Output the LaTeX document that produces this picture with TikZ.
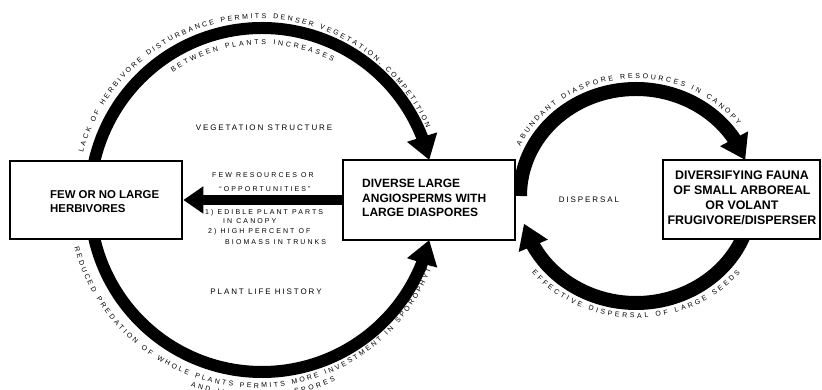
\documentclass[tikz,border=0pt]{standalone}
\usepackage{fontspec}
\setmainfont{Liberation Sans}
\newfontfamily\lblfont[LetterSpace=24]{Liberation Sans}
\newfontfamily\smfont[LetterSpace=30]{Liberation Sans}
\newfontfamily\arcfont{Liberation Sans}
\usetikzlibrary{arrows.meta,bending,calc,decorations.text}
\begin{document}
\begin{tikzpicture}[x=1pt,y=1pt,
  boxnode/.style={draw, line width=2.6pt, fill=white, inner sep=0pt},
  boxtext/.style={font=\bfseries\fontsize{12}{14.5}\selectfont, inner sep=0pt},
  lbl/.style={font=\lblfont\fontsize{8}{9}\selectfont, inner sep=0pt},
  sml/.style={font=\smfont\fontsize{7}{8}\selectfont, inner sep=0pt},
  ringL/.style={line width=12pt},
  ringR/.style={line width=14pt},
  bigtip/.style={-{Triangle[length=24pt,width=30pt,flex]}},
  arctext/.style={decorate, decoration={text along path, text align={fit to path},
     text={|\arcfont\fontsize{7}{8}\selectfont|#1}}}
]
\useasboundingbox (0,0) rectangle (822,390);
\coordinate (C1) at (262,190);
\coordinate (C2) at (636,194);
\coordinate (T1) at (259,189);
\coordinate (T2) at (256.5,190);

% rings
\draw[ringL, bigtip] ($(C1)+(180:172)$) coordinate (La) arc[start angle=180, end angle=13.45, radius=172];
\draw[ringL, bigtip] (La) arc[start angle=180, end angle=346.55, radius=172];
\draw[ringR, bigtip] ($(C2)+(180:116 and 107)$) coordinate (Ra) arc[start angle=180, end angle=19.66, x radius=116, y radius=107];
\draw[ringR, bigtip] ($(C2)+(350:116 and 107)$) coordinate (Rb) arc[start angle=350, end angle=195, x radius=116, y radius=107];

% boxes
\node[boxnode, minimum width=172pt, minimum height=78pt] (L) at (96,190) {};
\node[boxnode, minimum width=172pt, minimum height=80pt] (M) at (429,190) {};
\node[boxnode, minimum width=157pt, minimum height=79pt] (R) at (741.5,190.5) {};

\node[boxtext, font=\bfseries\fontsize{11.4}{13.5}\selectfont, anchor=west, align=left] (Lt) at (50,188.5) {FEW OR NO LARGE\\HERBIVORES};
\node[boxtext, anchor=west, align=left] (Mt) at (362,192) {DIVERSE LARGE\\ANGIOSPERMS WITH\\LARGE DIASPORES};
\node[boxtext, font=\bfseries\fontsize{12.4}{15}\selectfont, align=center] (Rt) at (742,192.5) {DIVERSIFYING FAUNA\\OF SMALL ARBOREAL\\OR VOLANT\\FRUGIVORE/DISPERSER};

% straight arrow
\draw[line width=10pt, -{Triangle[length=20pt,width=26pt]}] (M.west) -- (L.east);

% arrow labels
\node[sml, align=center] (a1) at (263,215) {FEW RESOURCES OR};
\node[sml, align=center] (a2) at (265,201) {“OPPORTUNITIES”};
\node[sml, anchor=west] (b1) at (205,177) {1) EDIBLE PLANT PARTS};
\node[sml, anchor=west] (b2) at (223,169) {IN CANOPY};
\node[sml, anchor=west] (b3) at (208,158) {2) HIGH PERCENT OF};
\node[sml, anchor=west] (b4) at (225,148) {BIOMASS IN TRUNKS};

% inner labels
\node[lbl] (vs) at (264,262) {VEGETATION STRUCTURE};
\node[lbl] (pl) at (266,98) {PLANT LIFE HISTORY};
\node[lbl] (ds) at (589,190) {DISPERSAL};

% curved texts
\path[arctext={LACK OF HERBIVORE DISTURBANCE PERMITS DENSER VEGETATION, COMPETITION}]
  ($(T1)+(164.5:182.5)$) arc[start angle=164.5, end angle=23.5, radius=182.5];
\path[arctext={BETWEEN PLANTS INCREASES}]
  ($(C1)+(125:155.5)$) arc[start angle=125, end angle=63, radius=155.5];
\path[arctext={REDUCED PREDATION OF WHOLE PLANTS PERMITS MORE INVESTMENT IN SPOROPHYTE}]
  ($(T2)+(194.5:188)$) arc[start angle=194.5, end angle=340.5, radius=188];
\path[arctext={AND IN LARGE DIASPORES}]
  ($(T2)+(250.5:197.5)$) arc[start angle=250.5, end angle=293.5, radius=197.5];
\path[arctext={ABUNDANT DIASPORE RESOURCES IN CANOPY}]
  ($(C2)+(155:127.5 and 117.5)$) arc[start angle=155, end angle=37, x radius=127.5, y radius=117.5];
\path[arctext={EFFECTIVE DISPERSAL OF LARGE SEEDS}]
  ($(C2)+(219:134 and 122)$) arc[start angle=219, end angle=321, x radius=134, y radius=122];
\end{tikzpicture}
\end{document}
